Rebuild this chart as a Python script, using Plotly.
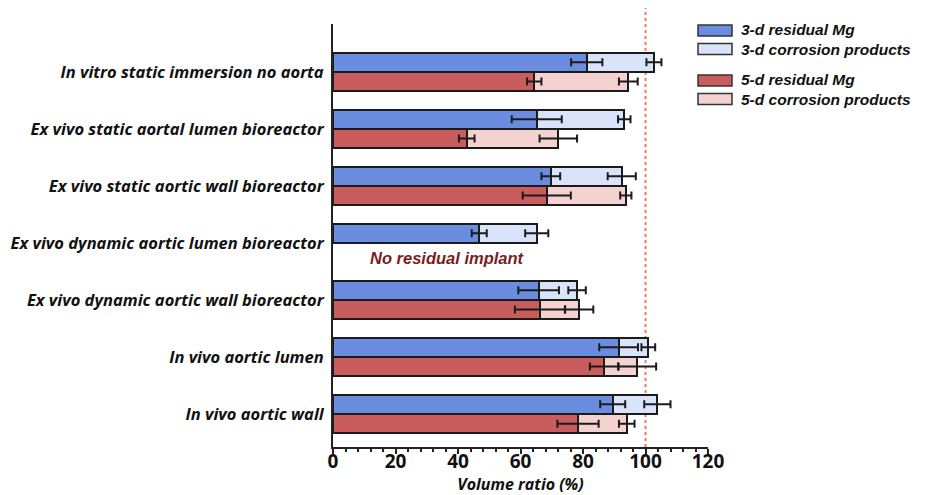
import plotly.graph_objects as go

categories = [
    "In vitro static immersion no aorta",
    "Ex vivo static aortal lumen bioreactor",
    "Ex vivo static aortic wall bioreactor",
    "Ex vivo dynamic aortic lumen bioreactor",
    "Ex vivo dynamic aortic wall bioreactor",
    "In vivo aortic lumen",
    "In vivo aortic wall",
]
res3 = [81.2, 65.2, 69.7, 46.8, 65.8, 91.4, 89.5]
res3_err = [5.0, 8.0, 3.0, 2.4, 6.5, 6.2, 4.0]
tot3 = [102.7, 93.2, 92.4, 65.2, 78.1, 100.9, 103.8]
tot3_err = [2.4, 2.0, 4.5, 3.7, 2.8, 2.2, 4.2]
res5 = [64.4, 42.8, 68.4, None, 66.2, 86.7, 78.4]
res5_err = [2.3, 2.5, 7.7, None, 8.0, 4.5, 6.6]
tot5 = [94.5, 72.1, 93.7, None, 78.8, 97.4, 94.0]
tot5_err = [3.0, 6.0, 1.8, None, 4.5, 6.0, 2.5]
x_ticks = [0, 20, 40, 60, 80, 100, 120]

n = len(categories)
pos = [n - 1 - i for i in range(n)]
off = 0.17
bw = 0.34
y3 = [p + off for p in pos]
y5 = [p - off for p in pos]

C_B1 = "#6b8ddf"
C_B2 = "#d9e4fb"
C_R1 = "#c95c5c"
C_R2 = "#f4d2d0"
EDGE = "#1b1b1b"

fig = go.Figure()

def bars(y, base, length, color, name):
    fig.add_trace(go.Bar(
        orientation="h", y=y, x=length, base=base, width=bw,
        marker=dict(color=color, line=dict(color=EDGE, width=2)),
        name=name, showlegend=False, hoverinfo="skip"))

# 3-d
bars(y3, [0] * n, res3, C_B1, "3-d residual Mg")
bars(y3, res3, [t - r for t, r in zip(tot3, res3)], C_B2, "3-d corrosion products")
# 5-d
idx5 = [i for i in range(n) if res5[i] is not None]
y5v = [y5[i] for i in idx5]
r5v = [res5[i] for i in idx5]
t5v = [tot5[i] for i in idx5]
bars(y5v, [0] * len(idx5), r5v, C_R1, "5-d residual Mg")
bars(y5v, r5v, [t - r for t, r in zip(t5v, r5v)], C_R2, "5-d corrosion products")

def errs(x, y, e):
    fig.add_trace(go.Scatter(
        x=x, y=y, mode="markers", marker=dict(size=1, color="rgba(0,0,0,0)"),
        error_x=dict(type="data", array=e, visible=True, color=EDGE,
                     thickness=2, width=4),
        showlegend=False, hoverinfo="skip"))

errs(res3, y3, res3_err)
errs(tot3, y3, tot3_err)
errs(r5v, y5v, [res5_err[i] for i in idx5])
errs(t5v, y5v, [tot5_err[i] for i in idx5])

# reference line at 100 %
fig.add_shape(type="line", x0=100, x1=100, xref="x", yref="paper",
              y0=0, y1=1.038, line=dict(color="#f07a68", width=2, dash="dot"),
              layer="below")

# no residual annotation
fig.add_annotation(x=36.5, y=pos[3] - 0.26, xref="x", yref="y",
                   text="No residual implant", showarrow=False,
                   font=dict(family="Liberation Sans", size=16.5, color="#7a1d1d",
                             weight="bold", style="italic"))

# legend (window pixel helpers; plot area spans x 333-708, y 24-447)
L = 333.0
W = 375.0
B = 447.0
H = 423.0
def px(x):
    return (x - L) / W
def py(y):
    return (B - y) / H

legend_boxes = [
    ("3-d residual Mg", C_B1, 30.5),
    ("3-d corrosion products", C_B2, 49.0),
    ("5-d residual Mg", C_R1, 80.5),
    ("5-d corrosion products", C_R2, 99.0),
]
for label, col, yc in legend_boxes:
    fig.add_shape(type="rect", xref="paper", yref="paper",
                  x0=px(698), x1=px(732), y0=py(yc + 5.5), y1=py(yc - 5.5),
                  fillcolor=col, line=dict(color="#333333", width=1.5))
legend_groups = [
    ("3-d residual Mg<br>3-d corrosion products", 39.75),
    ("5-d residual Mg<br>5-d corrosion products", 89.75),
]
for text, yc in legend_groups:
    fig.add_annotation(xref="paper", yref="paper", x=px(739), y=py(yc),
                       xanchor="left", yanchor="middle", align="left", text=text,
                       showarrow=False,
                       font=dict(family="Liberation Sans", size=15.5, color="#111111",
                                 weight="bold", style="italic"))

fig.update_layout(
    width=926, height=495,
    margin=dict(l=333, r=218, t=24, b=48),
    plot_bgcolor="white", paper_bgcolor="white",
    barmode="overlay", bargap=0,
    showlegend=False,
)
fig.update_xaxes(
    range=[0, 120], tickvals=x_ticks, showline=True, linecolor="#222222",
    linewidth=2, ticks="outside", ticklen=5, tickwidth=2, tickcolor="#222222",
    minor=dict(dtick=4, ticks="outside", ticklen=3, tickwidth=1.5, tickcolor="#222222"),
    showgrid=False, zeroline=False, automargin=False, ticklabelstandoff=-9,
    tickfont=dict(family="Open Sans", size=19, color="#111111", weight="bold"),
    title=dict(text="Volume ratio (%)", standoff=0,
               font=dict(family="Open Sans", size=16, color="#111111",
                         weight="bold", style="italic")),
)
fig.update_yaxes(
    range=[-0.58, 6.84], tickvals=pos, ticktext=categories,
    showline=True, linecolor="#222222", linewidth=2, ticks="",
    showgrid=False, zeroline=False, ticklabelstandoff=4, automargin=False,
    tickfont=dict(family="Open Sans", size=16.5, color="#111111",
                  weight="bold", style="italic"),
)

fig.write_html(
    "out.html",
    config={"displayModeBar": False},
    post_script="document.body.style.margin='0';document.body.style.overflow='hidden';",
)
